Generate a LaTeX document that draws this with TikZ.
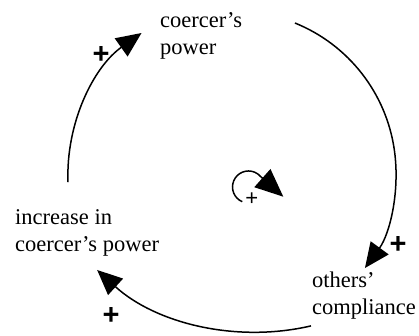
\documentclass[tikz,border=0pt]{standalone}
\usepackage{fontspec}
\setmainfont{Liberation Serif}
\newfontfamily\plusfont{Liberation Sans}
\usetikzlibrary{arrows.meta}
\tikzset{
  label/.style={anchor=base west, inner sep=0pt, align=left, font=\fontsize{22.5}{27}\selectfont},
  polarity/.style={inner sep=0pt, font=\plusfont\bfseries\fontsize{29}{29}\selectfont},
  looppol/.style={inner sep=0pt, font=\plusfont\fontsize{22}{22}\selectfont},
  link/.style={line width=1.5pt, -{Triangle[length=25pt,width=22pt]}},
  looparrow/.style={line width=1.5pt, -{Triangle[length=28pt,width=24pt]}}
}
\begin{document}
\begin{tikzpicture}[x=1pt,y=1pt]
\useasboundingbox (0,0) rectangle (419,336);
% variables (anchor: baseline of the last line)
\node[label] (cp) at (160,281) {coercer’s\\power};
\node[label] (inc) at (15,84) {increase in\\coercer’s power};
\node[label] (oc) at (312,21) {others’\\compliance};
% arc end points
\coordinate (cpOut) at (294.9,313.0);
\coordinate (ocIn) at (365,68);
\coordinate (ocOut) at (311,10.1);
\coordinate (incIn) at (97.1,66);
\coordinate (incOut) at (68.0,153.9);
\coordinate (cpIn) at (141.6,303);
% links
\draw[link] (cpOut) arc[start angle=68.0, end angle=-36.1, radius=161.6];
\draw[link] (ocOut) arc[start angle=-76.9, end angle=-132.4, radius=237.4];
\draw[link] (incOut) arc[start angle=182.2, end angle=125.3, radius=174.5];
% polarities
\node[polarity] (p1) at (101,281) {+};
\node[polarity] (p2) at (398,91) {+};
\node[polarity] (p3) at (111,20) {+};
% loop symbol
\coordinate (lpStart) at (242.25,134.3);
\coordinate (lpTip) at (283.3,139.3);
\draw[looparrow] (lpStart) arc[start angle=247, end angle=40, radius=16] -- (lpTip);
\node[looppol] (lp) at (251.7,137) {+};
\end{tikzpicture}
\end{document}
